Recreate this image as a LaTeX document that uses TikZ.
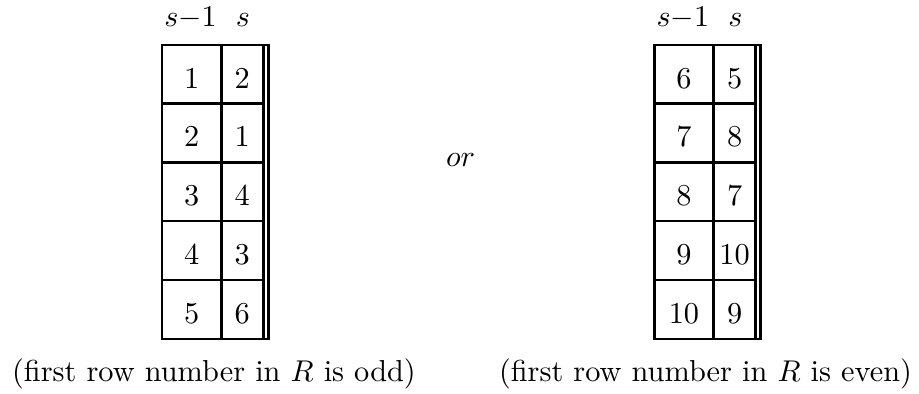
\documentclass[tikz,border=0pt]{standalone}
\begin{document}
\begin{tikzpicture}[x=0.333pt,y=-0.333pt,
    font=\fontsize{10.1}{12}\selectfont,
    grid/.style={line width=0.8pt, line cap=rect},
    cell/.style={anchor=base, inner sep=0pt}]
  \useasboundingbox (0,0) rectangle (919,394);
  % two permutation tables: name / left edge / row entries
  \foreach \tab/\xo/\vals in {L/162/{1/2,2/1,3/4,4/3,5/6}, R/654.3/{6/5,7/8,8/7,9/10,10/9}}{
    % outer frame with a doubled right-hand rule
    \draw[grid] (\xo+101.3,44.7) -- (\xo,44.7) -- (\xo,338.7) -- (\xo+101.3,338.7);
    \draw[grid] (\xo+101.3,44.7) -- ++(5,0) -- (\xo+106.3,338.7) -- (\xo+101.3,338.7);
    \draw[grid] (\xo+101.3,44.7) -- (\xo+101.3,338.7);
    \draw[grid] (\xo+59.3,44.7) -- (\xo+59.3,338.7);
    \foreach \k in {1,...,4}
      \draw[grid] (\xo,44.7+58.8*\k) -- ++(101.3,0);
    % column headers
    \node[cell] (\tab-h1) at (\xo+28.5,26) {$s{-}1$};
    \node[cell] (\tab-h2) at (\xo+81,26) {$s$};
    % entries
    \foreach \a/\b [count=\r] in \vals {
      \node[cell] (\tab-\r-a) at (\xo+29.65,44.7+58.8*\r-15.5) {\a};
      \node[cell] (\tab-\r-b) at (\xo+80.3,44.7+58.8*\r-15.5) {\b};
    }
  }
  \node[cell] (or) at (460.5,166.7) {$or$};
  \node[cell] (capL) at (214,381.5) {(first row number in $R$ is odd)};
  \node[cell] (capR) at (705.5,381.5) {(first row number in $R$ is even)};
\end{tikzpicture}
\end{document}
